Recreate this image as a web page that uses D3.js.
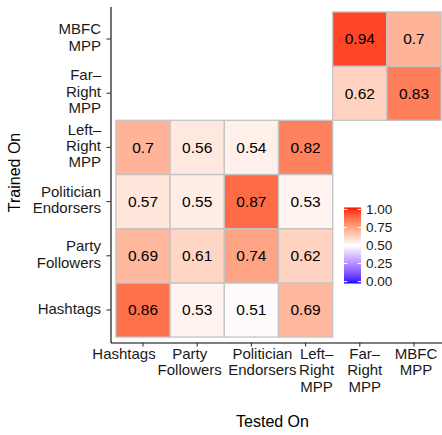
<!DOCTYPE html>
<html>
<head>
<meta charset="utf-8">
<script src="https://cdn.jsdelivr.net/npm/d3@7"></script>
<style>
  body { margin: 0; background: #fff; }
  svg { display: block; font-family: "Liberation Sans", Arial, Helvetica, sans-serif; }
</style>
</head>
<body>
<svg id="chart" width="442" height="435"></svg>
<script>
// Data sets, in axis order (first = left / bottom)
const categories = ["Hashtags", "Party Followers", "Politician Endorsers", "Left–Right MPP", "Far–Right MPP", "MBFC MPP"];
const tickLabels = ["Hashtags", "Party\nFollowers", "Politician\nEndorsers", "Left–\nRight\nMPP", "Far–\nRight\nMPP", "MBFC\nMPP"];

// Score of each training set (row) on each test set (column); null = not tested
const trainedHashtags   = [0.86, 0.53, 0.51, 0.69, null, null];
const trainedParty      = [0.69, 0.61, 0.74, 0.62, null, null];
const trainedPolitician = [0.57, 0.55, 0.87, 0.53, null, null];
const trainedLeftRight  = [0.7, 0.56, 0.54, 0.82, null, null];
const trainedFarRight   = [null, null, null, null, 0.62, 0.83];
const trainedMBFC       = [null, null, null, null, 0.94, 0.7];

const legendBreaks = [0, 0.25, 0.5, 0.75, 1];

const rows = [trainedHashtags, trainedParty, trainedPolitician, trainedLeftRight, trainedFarRight, trainedMBFC];
const cells = [];
rows.forEach((vals, r) => vals.forEach((v, c) => {
  if (v !== null) cells.push({ trained: categories[r], tested: categories[c], value: v });
}));

const FONT = '"Liberation Sans", Arial, Helvetica, sans-serif';
const svg = d3.select("#chart");
const panel = { left: 110.5, right: 446.5, top: 6.5, bottom: 342.5 };

const x = d3.scaleBand().domain(categories).range([panel.left, panel.right]).paddingInner(0).paddingOuter(0.1);
const y = d3.scaleBand().domain(categories).range([panel.bottom, panel.top]).paddingInner(0).paddingOuter(0.1);

// Diverging blue - white - red fill, midpoint 0.5
const fill = v => v < 0.5
  ? d3.interpolateLab("#0000ff", "#ffffff")(v / 0.5)
  : d3.interpolateLab("#ffffff", "#ff0000")((v - 0.5) / 0.5);

// Tiles
const tiles = svg.append("g");
tiles.selectAll("rect").data(cells).join("rect")
  .attr("x", d => x(d.tested))
  .attr("y", d => y(d.trained))
  .attr("width", x.bandwidth())
  .attr("height", y.bandwidth())
  .attr("fill", d => fill(d.value))
  .attr("stroke", "#c4c4c4")
  .attr("stroke-width", 1.3);

tiles.selectAll("text").data(cells).join("text")
  .attr("x", d => x(d.tested) + x.bandwidth() / 2)
  .attr("y", d => y(d.trained) + y.bandwidth() / 2)
  .attr("dy", "0.35em")
  .attr("text-anchor", "middle")
  .attr("font-size", 15.5)
  .attr("fill", "#000")
  .text(d => String(d.value));

const labelOf = d => tickLabels[categories.indexOf(d)];
const lineGap = 16.4;
// horizontal nudge of each bottom label block (px)
const xLabelShift = [-19, -7.5, 11, 11, 5, 2];

// Y axis
const gy = svg.append("g").attr("transform", `translate(${panel.left},0)`)
  .call(d3.axisLeft(y).tickSize(4).tickSizeOuter(0).tickPadding(5))
  .attr("font-family", FONT).attr("font-size", 15);
gy.select(".domain").attr("stroke", "#000").attr("stroke-width", 1.1);
gy.selectAll(".tick line").attr("stroke", "#333").attr("stroke-width", 1.1);
gy.selectAll(".tick text").each(function(d) {
  const lines = labelOf(d).split("\n");
  const t = d3.select(this).text(null).attr("dy", null).attr("fill", "#1a1a1a");
  lines.forEach((ln, i) => {
    t.append("tspan").attr("x", -9.5)
      .attr("y", 3.6 + (i - (lines.length - 1) / 2) * lineGap)
      .text(ln);
  });
});

// X axis
const gx = svg.append("g").attr("transform", `translate(0,${panel.bottom})`)
  .call(d3.axisBottom(x).tickSize(4).tickSizeOuter(0).tickPadding(2))
  .attr("font-family", FONT).attr("font-size", 15);
gx.select(".domain").attr("stroke", "#000").attr("stroke-width", 1.1);
gx.selectAll(".tick line").attr("stroke", "#333").attr("stroke-width", 1.1);
gx.selectAll(".tick text").each(function(d) {
  const k = categories.indexOf(d);
  const lines = labelOf(d).split("\n");
  const t = d3.select(this).text(null).attr("dy", null).attr("y", null).attr("fill", "#1a1a1a");
  lines.forEach((ln, i) => {
    t.append("tspan").attr("x", xLabelShift[k]).attr("y", 16.2 + i * lineGap).text(ln);
  });
});

// Axis titles
svg.append("text")
  .attr("x", 272.5)
  .attr("y", 426.5)
  .attr("text-anchor", "middle")
  .attr("font-size", 16)
  .attr("fill", "#000")
  .text("Tested On");

svg.append("text")
  .attr("transform", `translate(19.5,${(panel.top + panel.bottom) / 2 - 2}) rotate(-90)`)
  .attr("text-anchor", "middle")
  .attr("font-size", 16)
  .attr("fill", "#000")
  .text("Trained On");

// Colour bar legend
const bar = { x: 344, y: 207.5, w: 17, h: 76 };
const inset = bar.h / 40;
const ly = d3.scaleLinear().domain([0, 1]).range([bar.y + bar.h - inset, bar.y + inset]);

const grad = svg.append("defs").append("linearGradient")
  .attr("id", "scoreGradient").attr("x1", 0).attr("y1", 1).attr("x2", 0).attr("y2", 0);
d3.range(0, 1.0001, 0.02).forEach(v => {
  grad.append("stop").attr("offset", `${v * 100}%`).attr("stop-color", fill(v));
});

const legend = svg.append("g");
legend.append("rect")
  .attr("x", bar.x).attr("y", bar.y).attr("width", bar.w).attr("height", bar.h)
  .attr("fill", "url(#scoreGradient)");

legend.selectAll("line.l").data(legendBreaks).join("line").attr("class", "l")
  .attr("x1", bar.x).attr("x2", bar.x + bar.w / 5)
  .attr("y1", d => ly(d)).attr("y2", d => ly(d))
  .attr("stroke", "#fff").attr("stroke-width", 1);
legend.selectAll("line.r").data(legendBreaks).join("line").attr("class", "r")
  .attr("x1", bar.x + bar.w * 4 / 5).attr("x2", bar.x + bar.w)
  .attr("y1", d => ly(d)).attr("y2", d => ly(d))
  .attr("stroke", "#fff").attr("stroke-width", 1);

legend.selectAll("text").data(legendBreaks).join("text")
  .attr("x", 366)
  .attr("y", d => ly(d))
  .attr("dy", "0.35em")
  .attr("font-size", 13.5)
  .attr("fill", "#1a1a1a")
  .text(d => d3.format(".2f")(d));
</script>
</body>
</html>
